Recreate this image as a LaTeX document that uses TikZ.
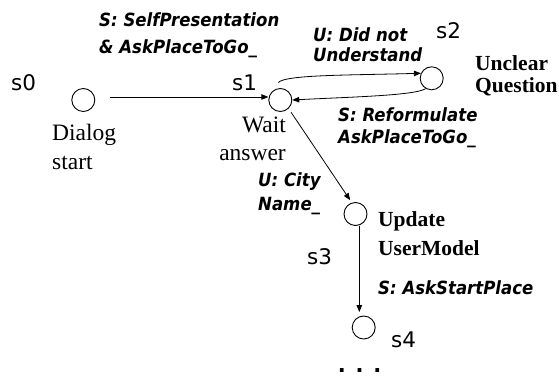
\documentclass[tikz,border=0pt]{standalone}
\usepackage{fontspec}
\setmainfont{Liberation Serif}
\newfontfamily\dvsans{DejaVu Sans}
\newfontfamily\dvbi[FakeStretch=0.91]{DejaVu Sans}
\usetikzlibrary{arrows.meta}
\begin{document}
\begin{tikzpicture}[x=1pt,y=-1pt,
  state/.style={circle, draw, line width=0.9pt, minimum size=23pt, inner sep=0pt},
  sname/.style={font=\dvsans\fontsize{21.5}{25}\selectfont, inner sep=0pt, anchor=base west},
  act/.style={font=\dvbi\bfseries\itshape\fontsize{18.2}{#1}\selectfont, inner sep=0pt, anchor=base west, align=left},
  desc/.style={font=\fontsize{23.5}{#1}\selectfont, inner sep=0pt},
  bdesc/.style={font=\bfseries\fontsize{21.5}{#1}\selectfont, inner sep=0pt, anchor=base west, align=left},
  arr/.style={line width=0.8pt, -{Triangle[length=7pt,width=5.5pt]}},
]
\fill[white] (0,0) rectangle (559,380);
\useasboundingbox (0,0) rectangle (559,380);

\node[state] (s0) at (83.3,100) {};
\node[state] (s1) at (280.3,100) {};
\node[state] (s2) at (431.7,78.3) {};
\node[state] (s3) at (355.5,214) {};
\node[state] (s4) at (363.7,327.5) {};

\node[sname] (l0) at (11,90) {s0};
\node[sname] (l1) at (232,90) {s1};
\node[sname] (l2) at (436,38.5) {s2};
\node[sname] (l3) at (307,264) {s3};
\node[sname] (l4) at (391,347) {s4};

\node[desc=29, anchor=base west, align=left] (d0) at (52,169) {Dialog\\start};
\node[desc=28.7, anchor=base east, align=right] (d1) at (286,160.7) {Wait\\answer};
\node[bdesc=22.3] (d2) at (475,92.3) {Unclear\\Question};
\node[bdesc=28.5] (d3) at (378,255) {Update\\UserModel};

\node[act=27.3] (a01) at (99,53.3) {S: SelfPresentation\\\& AskPlaceToGo\_};
\node[act=20] (a12) at (313,61) {U: Did not\\Understand};
\node[act=21.6] (a21) at (338,143.3) {S: Reformulate\\AskPlaceToGo\_};
\node[act=23.3] (a13) at (258,210) {U: City\\Name\_};
\node[act=20] (a34) at (378,294) {S: AskStartPlace};

\node[font=\dvsans\bfseries\fontsize{21}{25}\selectfont, inner sep=0pt, anchor=base west] (dots) at (337.7,372) {. . .};

\draw[arr, shorten <=15pt] ([yshift=3pt]s0.east) -- ([yshift=3pt]s1.west);
\draw[arr] ([xshift=-2pt,yshift=5.5pt]s1.north) .. controls +(7,-8) and +(-70,2) .. (s2.155);
\draw[arr] (s2.-120) .. controls +(-11,7) and +(57,-3) .. (s1.east);
\draw[arr, shorten <=4.5pt, shorten >=3pt] (s1.-46) -- (s3.108);
\draw[arr, shorten >=3.5pt] ([xshift=3.8pt]s3.south) -- ([xshift=3.8pt]s3.south |- s4.north);
\end{tikzpicture}
\end{document}
